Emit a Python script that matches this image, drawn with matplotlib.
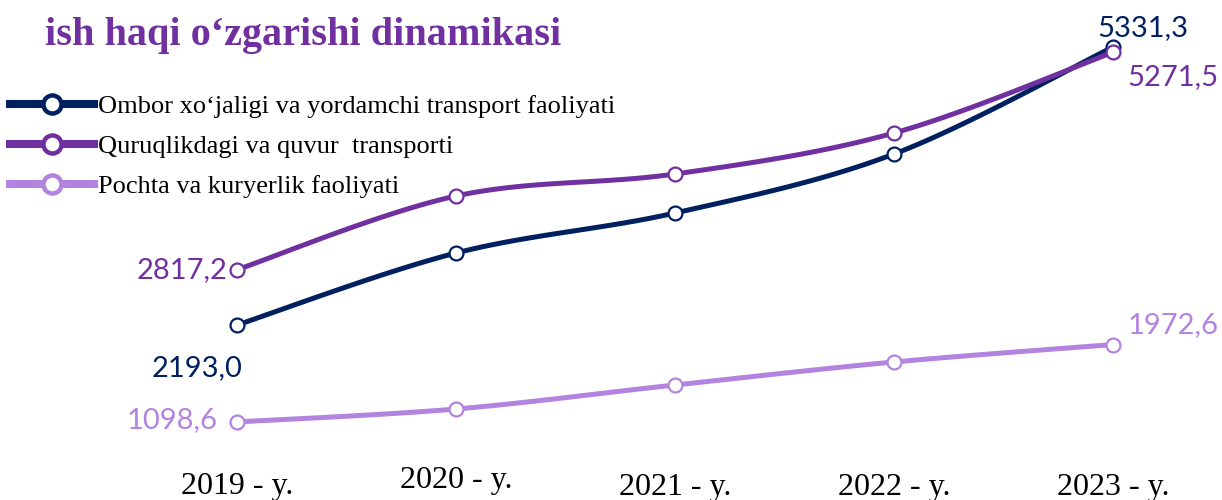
import numpy as np
import matplotlib.pyplot as plt
import matplotlib.transforms as mtransforms

plt.rcParams["font.family"] = ["Liberation Serif", "DejaVu Serif"]

# ---------- ma'lumotlar ----------
years = ["2019 - y.", "2020 - y.", "2021 - y.", "2022 - y.", "2023 - y."]
ombor = [2193.0, 3005.8, 3457.4, 4123.4, 5331.3]
quruq = [2817.2, 3649.3, 3897.6, 4360.5, 5271.5]
pochta = [1098.6, 1244.7, 1515.7, 1775.3, 1972.6]

names = [
    "Ombor xo‘jaligi va yordamchi transport faoliyati",
    "Quruqlikdagi va quvur  transporti",
    "Pochta va kuryerlik faoliyati",
]
colors = ["#002060", "#7030A0", "#B383E0"]
title = "ish haqi o‘zgarishi dinamikasi"


def smooth(x, y, n=30, t=0.5):
    # Catmull-Rom egri chiziq (Excel "smoothed line" ga o'xshash)
    x = np.asarray(x, float)
    y = np.asarray(y, float)
    px = np.concatenate([[x[0]], x, [x[-1]]])
    py = np.concatenate([[y[0]], y, [y[-1]]])
    xs, ys = [], []
    for i in range(1, len(px) - 2):
        p0, p1, p2, p3 = (np.array([px[j], py[j]]) for j in (i - 1, i, i + 1, i + 2))
        m1 = t * (p2 - p0)
        m2 = t * (p3 - p1)
        s = np.linspace(0, 1, n)
        h00 = 2 * s**3 - 3 * s**2 + 1
        h10 = s**3 - 2 * s**2 + s
        h01 = -2 * s**3 + 3 * s**2
        h11 = s**3 - s**2
        pts = np.outer(h00, p1) + np.outer(h10, m1) + np.outer(h01, p2) + np.outer(h11, m2)
        xs.extend(pts[:, 0])
        ys.extend(pts[:, 1])
    return np.array(xs), np.array(ys)


fig = plt.figure(figsize=(12.22, 5), dpi=100)
ax = fig.add_axes([0, 0, 1, 1])

# piksel joylashuvi bo'yicha o'qlar
x0_px, dx_px = 237, 219
ax.set_xlim(-x0_px / dx_px, 4 + (1222 - 1113) / dx_px)
k = (5331.3 - 2193.0) / (325 - 47)
ax.set_ylim(2193.0 - (500 - 325) * k, 2193.0 + 325 * k)
ax.axis("off")

xs = np.arange(len(years))
for vals, name, c in zip([ombor, quruq, pochta], names, colors):
    sx, sy = smooth(xs, vals)
    ax.plot(sx, sy, color=c, lw=3.6, solid_capstyle="round", zorder=2)
    ax.plot(xs, vals, ls="none", marker="o", ms=10, mfc="white", mec=c, mew=1.6, zorder=3)
    # legend uchun
    ax.plot([], [], color=c, lw=5.8, marker="o", ms=13, mfc="white", mec=c, mew=3.2, label=name)

# qiymat yorliqlari
lab_font = dict(family=["Lato", "DejaVu Sans"], fontsize=21)
labels = [
    (ombor, 0, "2193,0", (-40, -43), "center"),
    (ombor, 4, "5331,3", (30, 19), "center"),
    (quruq, 0, "2817,2", (-10, 0), "right"),
    (quruq, 4, "5271,5", (60, -25), "center"),
    (pochta, 0, "1098,6", (-19, 2), "right"),
    (pochta, 4, "1972,6", (60, 19), "center"),
]
series_color = {id(ombor): colors[0], id(quruq): colors[1], id(pochta): colors[2]}
for vals, i, txt, off, ha in labels:
    ax.annotate(txt, (i, vals[i]), xytext=off, textcoords="offset pixels",
                ha=ha, va="center", color=series_color[id(vals)], **lab_font)

# x yorliqlari
trans = mtransforms.blended_transform_factory(ax.transData, ax.transAxes)
y_base = [0.012, 0.024, 0.010, 0.010, 0.010]
for i, (yr, yb) in enumerate(zip(years, y_base)):
    ax.text(i, yb, yr, transform=trans, ha="center", va="baseline", fontsize=23, color="black")

# sarlavha
fig.text(45 / 1222, 1 - 45 / 500, title, ha="left", va="baseline", fontsize=29,
         fontweight="bold", color="#7030A0",
         family=["Liberation Serif", "DejaVu Serif"])

ax.legend(loc="upper left", bbox_to_anchor=(10 / 1222, 1 - 95 / 500),
          bbox_transform=fig.transFigure, frameon=False, fontsize=19,
          handlelength=3.2, handletextpad=0.15, labelspacing=0.62,
          borderpad=0, borderaxespad=0)

fig.savefig("out.png", dpi=100)
